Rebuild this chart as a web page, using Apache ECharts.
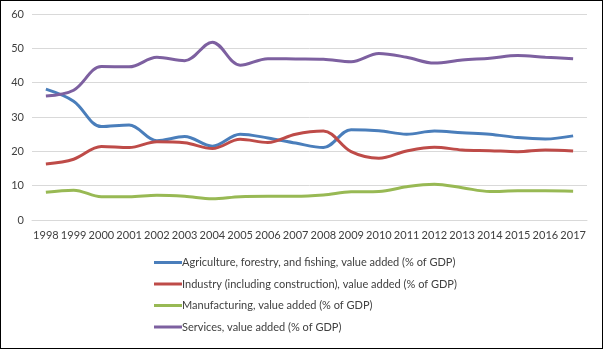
<!DOCTYPE html>
<html><head><meta charset="utf-8">
<script src="https://cdn.jsdelivr.net/npm/echarts@6/dist/echarts.min.js"></script>
<style>
html,body{margin:0;padding:0;background:#fff;}
#wrap{width:603px;height:349px;box-sizing:border-box;border:1px solid #000;}
#c{width:601px;height:347px;}
</style></head><body>
<div id="wrap"><div id="c"></div></div>
<script>
const years = ['1998','1999','2000','2001','2002','2003','2004','2005','2006','2007','2008','2009','2010','2011','2012','2013','2014','2015','2016','2017'];
const agriculture = [38.1,34.6,27.2,27.7,23.1,24.3,21.5,25.0,23.9,22.4,21.1,26.3,26.0,25.0,25.9,25.4,25.0,24.0,23.6,24.5];
const industry = [16.3,17.7,21.4,21.1,22.8,22.5,20.8,23.5,22.6,25.0,25.9,19.9,18.0,20.1,21.2,20.4,20.2,19.9,20.4,20.1];
const manufacturing = [8.1,8.7,6.8,6.8,7.2,6.9,6.2,6.8,6.9,6.9,7.3,8.2,8.3,9.7,10.4,9.4,8.3,8.5,8.5,8.4];
const services = [36.1,37.8,44.7,44.6,47.4,46.4,51.8,45.1,47.0,46.9,46.8,46.1,48.5,47.4,45.7,46.6,47.1,47.9,47.4,47.0];
const seriesNames = ['Agriculture, forestry, and fishing, value added (% of GDP)','Industry (including construction), value added (% of GDP)','Manufacturing, value added (% of GDP)','Services, value added (% of GDP)'];
const colors = ['#4a7ebb','#be4b48','#98b954','#7d60a0'];
const yTicks = {min:0,max:60,interval:10};

const chart = echarts.init(document.getElementById('c'));
const font = 'Lato, "Open Sans", sans-serif';
const datasets = [agriculture, industry, manufacturing, services];
chart.setOption({
  animation:false,
  color: colors,
  grid:{left:31,right:15,top:13,height:206},
  legend:{orient:'vertical',left:148,top:251,itemWidth:28,itemHeight:3,itemGap:10.5,icon:'rect',
    textStyle:{fontFamily:font,fontSize:11,color:'#404040',padding:[0,0,0,-5]},
    data:seriesNames},
  xAxis:{type:'category',data:years,boundaryGap:true,
    axisLine:{show:true,lineStyle:{color:'#d9d9d9'}},axisTick:{show:false},
    axisLabel:{fontFamily:font,fontSize:11,color:'#404040',margin:10,interval:0}},
  yAxis:{type:'value',min:yTicks.min,max:yTicks.max,interval:yTicks.interval,
    axisLine:{show:false},axisTick:{show:false},
    splitLine:{lineStyle:{color:'#d9d9d9'}},
    axisLabel:{fontFamily:font,fontSize:11,color:'#404040',margin:8}},
  series: datasets.map((d,i)=>({name:seriesNames[i],type:'line',data:d,smooth:0.35,symbol:'none',
    lineStyle:{width:3,color:colors[i]},itemStyle:{color:colors[i]}}))
});
</script></body></html>
